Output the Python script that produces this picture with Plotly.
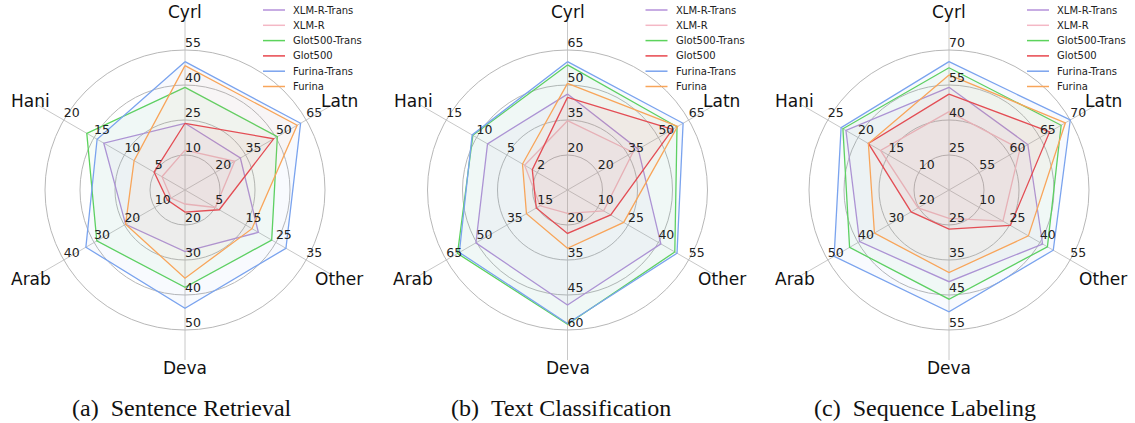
import math
import plotly.graph_objects as go

W, H = 1135, 423

AXES = ["Cyrl", "Latn", "Other", "Deva", "Arab", "Hani"]
MODELS = ["XLM-R-Trans", "XLM-R", "Glot500-Trans", "Glot500", "Furina-Trans", "Furina"]
COLORS = ["#b490da", "#f4b8c5", "#5cd35c", "#e8464d", "#7aa3ee", "#f8a55a"]
FILLS = ["rgba(180,144,218,0.05)", "rgba(244,184,197,0.05)", "rgba(92,211,92,0.05)",
         "rgba(232,70,77,0.05)", "rgba(122,163,238,0.05)", "rgba(248,165,90,0.05)"]

# ---------------- (a) Sentence Retrieval ----------------
sr_tick_labels = [["10", "25", "40", "55"], ["20", "35", "50", "65"], ["5", "15", "25", "35"],
                  ["20", "30", "40", "50"], ["10", "20", "30", "40"], ["5", "10", "15", "20"]]
sr_tick_lo = [10, 20, 5, 20, 10, 5]
sr_tick_hi = [55, 65, 35, 50, 40, 20]
sr_xlmr_trans = [23.6, 32.4, 19.2, 27.6, 19.6, 13.4]
sr_xlmr = [12.1, 29.6, 5.0, 14.0, 4.6, 3.8]
sr_glot_trans = [39.0, 50.7, 23.6, 37.8, 29.1, 16.2]
sr_glot = [23.6, 48.9, 6.3, 16.3, 5.8, 5.1]
sr_furina_trans = [50.0, 62.2, 28.3, 43.8, 32.7, 14.5]
sr_furina = [48.3, 60.5, 17.1, 35.2, 19.6, 8.4]

# ---------------- (b) Text Classification ----------------
tc_tick_labels = [["20", "35", "50", "65"], ["20", "35", "50", "65"], ["10", "25", "40", "55"],
                  ["20", "35", "45", "60"], ["15", "35", "50", "65"], ["2", "5", "10", "15"]]
tc_tick_lo = [20, 20, 10, 20, 15, 2]
tc_tick_hi = [65, 65, 55, 60, 65, 15]
tc_xlmr_trans = [46.1, 40.0, 41.2, 50.5, 48.7, 9.1]
tc_xlmr = [34.7, 37.4, 12.9, 15.6, 13.4, 3.8]
tc_glot_trans = [58.6, 59.2, 48.1, 57.8, 58.8, 11.2]
tc_glot = [44.7, 57.0, 16.4, 23.2, 15.5, 2.7]
tc_furina_trans = [60.0, 62.2, 49.2, 57.5, 57.8, 11.3]
tc_furina = [50.7, 59.5, 22.8, 28.9, 20.9, 4.1]

# ---------------- (c) Sequence Labeling ----------------
sl_tick_labels = [["25", "40", "55", "70"], ["55", "60", "65", "70"], ["10", "25", "40", "55"],
                  ["25", "35", "45", "55"], ["20", "30", "40", "50"], ["10", "15", "20", "25"]]
sl_tick_lo = [25, 55, 10, 25, 20, 10]
sl_tick_hi = [70, 70, 55, 55, 50, 25]
sl_xlmr_trans = [54.0, 63.0, 41.3, 41.2, 39.5, 22.0]
sl_xlmr = [43.6, 61.7, 21.7, 23.1, 20.2, 16.3]
sl_glot_trans = [62.4, 68.5, 43.7, 46.2, 42.8, 22.5]
sl_glot = [51.1, 66.6, 25.4, 26.2, 22.5, 18.3]
sl_furina_trans = [65.0, 70.0, 46.6, 49.8, 47.9, 22.8]
sl_furina = [59.3, 69.2, 34.3, 38.6, 34.6, 18.3]

TASK_NAMES = ["(a)\u00a0\u00a0Sentence Retrieval", "(b)\u00a0\u00a0Text Classification",
              "(c)\u00a0\u00a0Sequence Labeling"]

tasks = [
    (sr_tick_labels, sr_tick_lo, sr_tick_hi,
     [sr_xlmr_trans, sr_xlmr, sr_glot_trans, sr_glot, sr_furina_trans, sr_furina]),
    (tc_tick_labels, tc_tick_lo, tc_tick_hi,
     [tc_xlmr_trans, tc_xlmr, tc_glot_trans, tc_glot, tc_furina_trans, tc_furina]),
    (sl_tick_labels, sl_tick_lo, sl_tick_hi,
     [sl_xlmr_trans, sl_xlmr, sl_glot_trans, sl_glot, sl_furina_trans, sl_furina]),
]

# layout geometry (pixels)
CENTERS_X = [185, 567.5, 949]
CENTER_Y = 190
RING_PX = 35.0
R_PX = 170.0
R_MAX = R_PX / RING_PX
LABEL_R_PX = 178.0
CAPTION_X = [181.5, 561, 925]
CAPTION_Y = 408

fig = go.Figure()
layout_polars = {}
annotations = []
shapes = []


def to_r(v, lo, hi):
    return 1 + 3 * (v - lo) / (hi - lo)


for k, (tlabels, tlo, thi, series) in enumerate(tasks):
    pname = "polar" if k == 0 else f"polar{k + 1}"
    sub = pname
    for m, vals in enumerate(series):
        r = [to_r(v, tlo[i], thi[i]) for i, v in enumerate(vals)]
        fig.add_trace(go.Scatterpolar(
            r=r + [r[0]], theta=AXES + [AXES[0]], mode="lines",
            line=dict(color=COLORS[m], width=1.3),
            fill="toself", fillcolor=FILLS[m],
            name=MODELS[m], showlegend=False, subplot=sub, hoverinfo="skip"))
    # per-axis tick labels
    rr, tt, tx = [], [], []
    for i, ax in enumerate(AXES):
        for j in range(4):
            rr.append(j + 1)
            tt.append(ax)
            tx.append(tlabels[i][j])
    fig.add_trace(go.Scatterpolar(
        r=rr, theta=tt, text=tx, mode="text", textposition="top right",
        textfont=dict(family="DejaVu Sans", size=12.5, color="#222222"),
        showlegend=False, subplot=sub, hoverinfo="skip", cliponaxis=False))

    cx = CENTERS_X[k]
    layout_polars[pname] = dict(
        domain=dict(x=[(cx - R_PX) / W, (cx + R_PX) / W],
                    y=[1 - (CENTER_Y + R_PX) / H, 1 - (CENTER_Y - R_PX) / H]),
        bgcolor="rgba(0,0,0,0)",
        radialaxis=dict(range=[0, R_MAX], tickvals=[1, 2, 3, 4], showticklabels=False,
                        ticks="", showline=False, gridcolor="#b8b8b8", gridwidth=0.8),
        angularaxis=dict(type="category", categoryarray=AXES, rotation=90,
                         direction="clockwise", showline=False, showticklabels=False,
                         ticks="", gridcolor="#c8c8c8", gridwidth=1),
    )

    # axis names around each radar
    for i, ax in enumerate(AXES):
        ang = math.radians(90 - 60 * i)
        px = cx + LABEL_R_PX * math.cos(ang)
        py = CENTER_Y - LABEL_R_PX * math.sin(ang)
        annotations.append(dict(xref="paper", yref="paper", x=px / W, y=1 - py / H,
                                xanchor="center", yanchor="middle", showarrow=False,
                                text=ax, font=dict(family="DejaVu Sans", size=17,
                                                   color="#111111")))

    # manual legend
    for m, name in enumerate(MODELS):
        yy = 10 + m * 15.3
        shapes.append(dict(type="line", xref="paper", yref="paper",
                           x0=(cx + 78) / W, x1=(cx + 100) / W,
                           y0=1 - yy / H, y1=1 - yy / H,
                           line=dict(color=COLORS[m], width=1.5)))
        annotations.append(dict(xref="paper", yref="paper", x=(cx + 106) / W, y=1 - yy / H,
                                xanchor="left", yanchor="middle", showarrow=False,
                                text=name, font=dict(family="DejaVu Sans", size=10,
                                                     color="#222222")))
    # caption
    annotations.append(dict(xref="paper", yref="paper", x=CAPTION_X[k] / W,
                            y=1 - CAPTION_Y / H,
                            xanchor="center", yanchor="middle", showarrow=False,
                            text=TASK_NAMES[k],
                            font=dict(family="Liberation Serif", size=24, color="#111111")))

fig.update_layout(
    width=W, height=H, margin=dict(l=0, r=0, t=0, b=0),
    paper_bgcolor="white", plot_bgcolor="white",
    showlegend=False, annotations=annotations, shapes=shapes,
    **layout_polars,
)

fig.write_html("out.html", config={"displayModeBar": False},
               post_script="document.body.style.margin='0';")
